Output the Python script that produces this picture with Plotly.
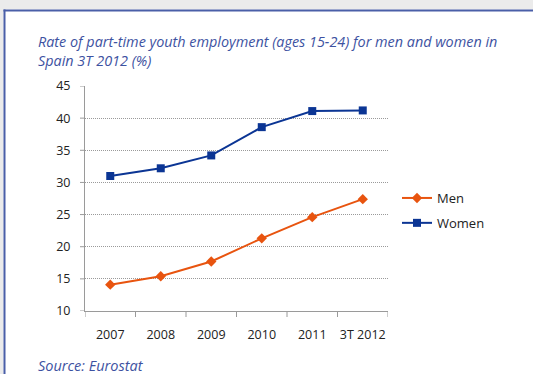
import plotly.graph_objects as go

# Data: part-time youth employment rate (%), ages 15-24, Spain
periods = ["2007", "2008", "2009", "2010", "2011", "3T 2012"]
men = [14.1, 15.4, 17.7, 21.3, 24.6, 27.4]
women = [31.0, 32.2, 34.2, 38.6, 41.1, 41.2]
y_ticks = [10, 15, 20, 25, 30, 35, 40, 45]

W, H = 533, 374
ML, MR, MT, MB = 85, 145, 86, 63
PW, PH = W - ML - MR, H - MT - MB


def px_x(px):
    return (px - ML) / PW


def px_y(py):
    return (H - MB - py) / PH


ORANGE = "#e8540f"
NAVY = "#0b3594"
BLUE_TXT = "#3d52a1"
FRAME = "#4a5fa8"
PAGE = "#ebebeb"
AXIS = "#9a9a9a"
FONT = "Open Sans"
Y_RANGE = [10, 45]
X_RANGE = [-0.5, len(periods) - 0.5]

fig = go.Figure()
fig.add_trace(go.Scatter(
    x=periods, y=men, name="Men", mode="lines+markers", legendgroup="men",
    line=dict(color=ORANGE, width=2),
    marker=dict(symbol="diamond", size=8, color=ORANGE),
))
fig.add_trace(go.Scatter(
    x=periods, y=women, name="Women", mode="lines+markers", legendgroup="women",
    line=dict(color=NAVY, width=2),
    marker=dict(symbol="square", size=8, color=NAVY),
))

# short tick marks: category boundaries on x, tick values on y
for i in range(len(periods) + 1):
    fig.add_shape(type="line", xref="x", yref="paper", layer="above",
                  x0=i - 0.5, x1=i - 0.5, y0=0, y1=px_y(H - MB + 6),
                  line=dict(color=AXIS, width=1))
for v in y_ticks:
    fig.add_shape(type="line", xref="paper", yref="y", layer="above",
                  x0=px_x(ML - 5), x1=0, y0=v, y1=v,
                  line=dict(color=AXIS, width=1))

# grey page strips along the top and left, and the blue panel frame
fig.add_shape(type="rect", xref="paper", yref="paper", layer="above",
              x0=px_x(-5), x1=px_x(540), y0=px_y(9.5), y1=px_y(-5),
              line=dict(width=0), fillcolor=PAGE)
fig.add_shape(type="rect", xref="paper", yref="paper", layer="above",
              x0=px_x(-5), x1=px_x(3.5), y0=px_y(380), y1=px_y(-5),
              line=dict(width=0), fillcolor=PAGE)
fig.add_shape(type="line", xref="paper", yref="paper", layer="above",
              x0=px_x(3.5), x1=px_x(540), y0=px_y(10.5), y1=px_y(10.5),
              line=dict(color=FRAME, width=2))
fig.add_shape(type="line", xref="paper", yref="paper", layer="above",
              x0=px_x(4.5), x1=px_x(4.5), y0=px_y(380), y1=px_y(9.5),
              line=dict(color=FRAME, width=2))

fig.add_annotation(
    xref="paper", yref="paper", x=px_x(36), y=px_y(30), xanchor="left", yanchor="top",
    align="left", showarrow=False,
    text="<i>Rate of part-time youth employment (ages 15-24) for men and women in<br>Spain 3T 2012 (%)</i>",
    font=dict(family=FONT, size=14.4, color=BLUE_TXT),
)
fig.add_annotation(
    xref="paper", yref="paper", x=px_x(36), y=px_y(354), xanchor="left", yanchor="top",
    align="left", showarrow=False,
    text="<i>Source: Eurostat</i>",
    font=dict(family=FONT, size=14.5, color=BLUE_TXT),
)

fig.update_layout(
    width=W, height=H,
    margin=dict(l=ML, r=MR, t=MT, b=MB, pad=0),
    paper_bgcolor="white",
    plot_bgcolor="white",
    font=dict(family=FONT, size=13, color="#222222"),
    showlegend=True,
    legend=dict(x=px_x(397), y=px_y(183), xanchor="left", yanchor="top",
                bgcolor="rgba(0,0,0,0)", font=dict(size=13, color="#222222"),
                itemwidth=30, tracegroupgap=5),
    # transparent long ticks push the labels away from the axis lines
    xaxis=dict(
        type="category", range=X_RANGE, tickangle=0,
        showgrid=False, showline=True, linecolor=AXIS, linewidth=1,
        ticks="outside", ticklen=12, tickcolor="rgba(0,0,0,0)",
        tickfont=dict(size=12.5, color="#222222"),
    ),
    yaxis=dict(
        range=Y_RANGE, tickvals=y_ticks,
        showgrid=True, gridcolor="#9a9a9a", gridwidth=1, griddash="1px,1px",
        showline=True, linecolor=AXIS, linewidth=1,
        ticks="outside", ticklen=11, tickcolor="rgba(0,0,0,0)",
        tickfont=dict(size=12.5, color="#222222"), zeroline=False,
    ),
)

fig.write_html("out.html")
